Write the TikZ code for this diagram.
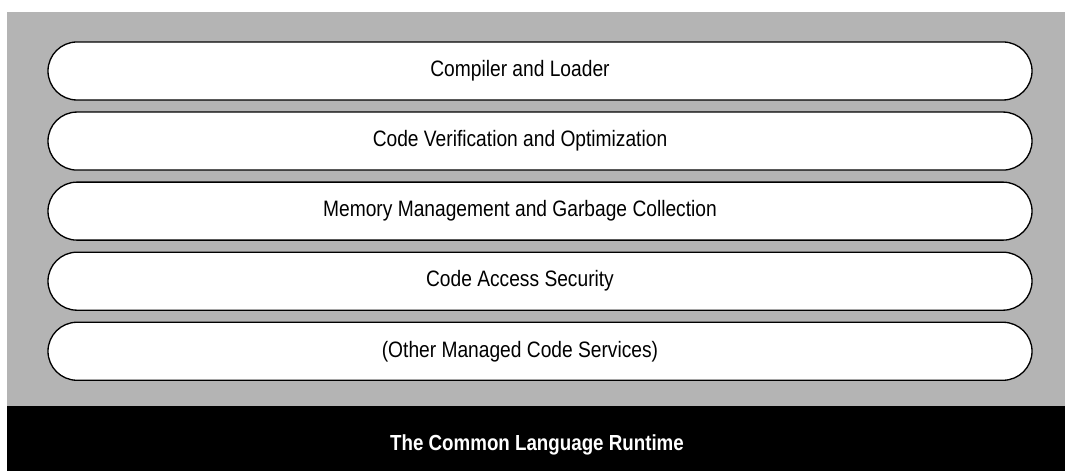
\documentclass[tikz,border=0pt]{standalone}
\usepackage{fontspec}
\usepackage{xcolor}
\usetikzlibrary{positioning}
\newfontfamily\layerfont[FakeStretch=0.86]{Liberation Sans}
\definecolor{clrgray}{RGB}{180, 180, 180}

\begin{document}
\begin{tikzpicture}[
    layer/.style={rectangle, rounded corners=0.58cm, draw=black, line width=0.75pt, fill=white, minimum width=19.68cm, minimum height=1.16cm, font=\layerfont\fontsize{12.7}{14}\selectfont, inner sep=0pt, execute at end node={\hspace*{0.8cm}}},
    runtime/.style={font=\layerfont\bfseries\fontsize{12.4}{14}\selectfont, text=white}
]
    \useasboundingbox (0,0) rectangle (21.3,9.42);
    % Background
    \fill[clrgray] (0.14,1.3) rectangle (21.3,9.18);
    \fill[black] (0.14,0) rectangle (21.3,1.3);

    % Layers
    \node[layer] (compiler) at (10.8,8.0) {Compiler and Loader};
    \node[layer, below=0.215cm of compiler] (verify) {Code Verification and Optimization};
    \node[layer, below=0.215cm of verify] (memory) {Memory Management and Garbage Collection};
    \node[layer, below=0.215cm of memory] (security) {Code Access Security};
    \node[layer, below=0.215cm of security] (other) {(Other Managed Code Services)};

    % Runtime
    \node[runtime] (clr) at (10.74,0.53) {The Common Language Runtime};

\end{tikzpicture}
\end{document}
